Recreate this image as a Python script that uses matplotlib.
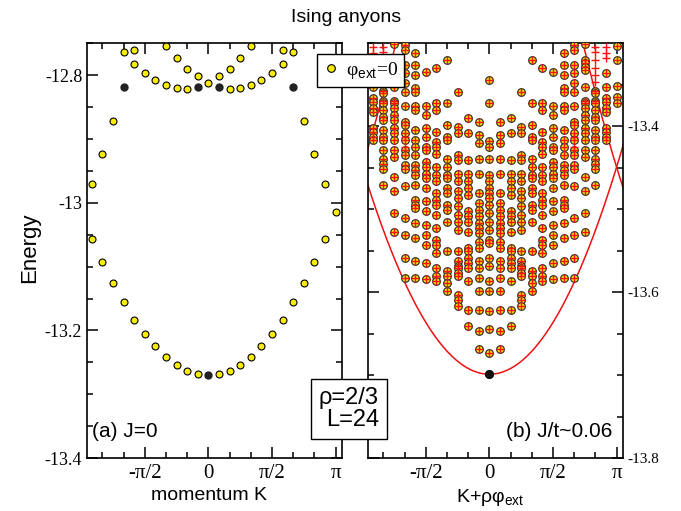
import numpy as np
import matplotlib.pyplot as plt
from matplotlib.lines import Line2D
from matplotlib.ticker import MultipleLocator, FixedLocator, FuncFormatter

plt.rcParams['font.family'] = ['Liberation Sans', 'DejaVu Sans']
plt.rcParams['mathtext.fontset'] = 'custom'
plt.rcParams['mathtext.rm'] = 'Liberation Sans'
plt.rcParams['mathtext.sf'] = 'Liberation Sans'
plt.rcParams['mathtext.it'] = 'Liberation Sans:italic'

L_SITES = 24

# panel (a), J=0 : energies for each momentum index k  (K = 2 pi k / L)
k_a = list(range(-11, 13))
E_a = [
    [-12.971, -13.056],
    [-12.924, -13.093],
    [-12.872, -13.126],
    [-12.764, -13.156],
    [-12.760, -12.782, -13.183],
    [-12.797, -13.206],
    [-12.808, -13.225],
    [-12.754, -12.815, -13.242],
    [-12.773, -12.820, -13.254],
    [-12.790, -12.821, -13.263],
    [-12.802, -13.268],
    [-12.812],
    [-12.802, -13.268],
    [-12.790, -12.821, -13.263],
    [-12.773, -12.820, -13.254],
    [-12.754, -12.815, -13.242],
    [-12.808, -13.225],
    [-12.797, -13.206],
    [-12.760, -12.782, -13.183],
    [-12.764, -13.156],
    [-12.872, -13.126],
    [-12.924, -13.093],
    [-12.971, -13.056],
    [-13.015],
]
k_a_gs = [-8, -1, 1, 8, 0]
E_a_gs = [-12.818, -12.818, -12.818, -12.818, -13.270]

# panel (b), J/t~0.06 : spectrum is symmetric in K, one list per |k|
k_b = list(range(0, 13))
E_b = [
    [-13.344, -13.372, -13.418, -13.425, -13.439, -13.459, -13.466, -13.474, -13.481, -13.487, -13.495,
     -13.505, -13.515, -13.525, -13.537, -13.541, -13.559, -13.569, -13.586, -13.599, -13.623, -13.644,
     -13.673, -13.699],
    [-13.395, -13.411, -13.420, -13.439, -13.457, -13.481, -13.493, -13.501, -13.508, -13.517, -13.523,
     -13.529, -13.539, -13.547, -13.562, -13.571, -13.583, -13.599, -13.622, -13.647, -13.669],
    [-13.390, -13.408, -13.441, -13.457, -13.466, -13.475, -13.483, -13.502, -13.508, -13.515, -13.528,
     -13.547, -13.551, -13.559, -13.565, -13.571, -13.587, -13.622, -13.641],
    [-13.359, -13.401, -13.408, -13.435, -13.441, -13.457, -13.466, -13.478, -13.487, -13.496, -13.507,
     -13.515, -13.525, -13.550, -13.563, -13.568, -13.571, -13.577, -13.581, -13.604, -13.610, -13.617],
    [-13.320, -13.372, -13.399, -13.413, -13.417, -13.439, -13.449, -13.459, -13.463, -13.475, -13.481,
     -13.495, -13.501, -13.515, -13.550, -13.575, -13.580, -13.589, -13.599],
    [-13.330, -13.372, -13.381, -13.407, -13.419, -13.425, -13.433, -13.449, -13.459, -13.466, -13.481,
     -13.489, -13.495, -13.507, -13.523, -13.537, -13.543, -13.553, -13.571, -13.580, -13.587],
    [-13.335, -13.375, -13.387, -13.402, -13.413, -13.425, -13.429, -13.443, -13.449, -13.457, -13.463,
     -13.475, -13.490, -13.502, -13.519, -13.531, -13.543, -13.565, -13.584],
    [-13.312, -13.326, -13.338, -13.354, -13.359, -13.375, -13.381, -13.405, -13.417, -13.425, -13.435,
     -13.447, -13.453, -13.459, -13.471, -13.489, -13.495, -13.499, -13.517, -13.535, -13.562, -13.583],
    [-13.302, -13.308, -13.326, -13.336, -13.348, -13.359, -13.375, -13.395, -13.399, -13.408, -13.417,
     -13.429, -13.435, -13.447, -13.451, -13.472, -13.511, -13.531, -13.559, -13.583],
    [-13.301, -13.320, -13.324, -13.329, -13.332, -13.353, -13.369, -13.372, -13.378, -13.387, -13.393,
     -13.402, -13.408, -13.417, -13.429, -13.437, -13.461, -13.478, -13.505, -13.527],
    [-13.357, -13.360, -13.369, -13.372, -13.381, -13.389, -13.393, -13.405, -13.413, -13.417, -13.429,
     -13.439, -13.445, -13.451, -13.471],
    [-13.336, -13.353, -13.366, -13.371, -13.378, -13.383, -13.402, -13.407, -13.413, -13.417],
    [-13.303, -13.320, -13.351, -13.365, -13.372],
]
# red crosses that have no circle under them
k_b_extra = [8, 10, 11]
E_b_extra = [
    [-13.413, -13.425],
    [-13.305, -13.311, -13.320, -13.330, -13.338, -13.347],
    [-13.305, -13.312, -13.318],
]
k_b_gs = [0]
E_b_gs = [-13.699]

# effective mass fit (red line), repeated at K = 0, +-2pi
fit_E0 = -13.699
fit_c = 0.0253
fit_centres = [-2 * np.pi, 0.0, 2 * np.pi]

YEL = '#f8ec00'


def K(k):
    return 2 * np.pi * np.asarray(k, dtype=float) / L_SITES


def flatten(ks, cols, mirror=False):
    xs, ys = [], []
    for k, Es in zip(ks, cols):
        for kk in ([k] if (k == 0 or not mirror) else [k, -k]):
            xs += [kk] * len(Es)
            ys += list(Es)
    return K(xs), np.array(ys)


fig = plt.figure(figsize=(6.81, 5.11), dpi=100)
ax1 = fig.add_axes([87 / 681, 1 - 458 / 511, 255 / 681, 414.7 / 511])
ax2 = fig.add_axes([368 / 681, 1 - 458 / 511, 255 / 681, 414.7 / 511])

# (a)
xa, ya = flatten(k_a, E_a)
ax1.plot(xa, ya, 'o', ms=5, mfc=YEL, mec='k', mew=0.8, ls='none', zorder=3)
ax1.plot(K(k_a_gs), E_a_gs, 'o', ms=5, mfc='#222222', mec='#222222', ls='none', zorder=4)

# (b)
xb, yb = flatten(k_b, E_b, mirror=True)
ax2.plot(xb, yb, 'o', ms=5.5, mfc=YEL, mec='#333333', mew=0.9, ls='none', zorder=3)
ax2.plot(xb, yb, '+', ms=6, color='#ff1010', mew=1.0, ls='none', zorder=4)
xe, ye = flatten(k_b_extra, E_b_extra, mirror=True)
ax2.plot(xe, ye, '+', ms=6, color='#ff1010', mew=1.0, ls='none', zorder=4)
ax2.plot(K(k_b_gs), E_b_gs, 'o', ms=5.5, mfc='#111111', mec='#111111', ls='none', zorder=5)
kk = np.linspace(-3.2, 3.4, 400)
for c in fit_centres:
    ax2.plot(kk, fit_E0 + fit_c * (kk - c) ** 2, color='#ee1111', lw=1.1, zorder=2)

for ax in (ax1, ax2):
    ax.set_xlim(-3.0, 3.3)
    ax.xaxis.set_major_locator(FixedLocator([-np.pi / 2, 0, np.pi / 2, np.pi]))
    ax.xaxis.set_minor_locator(MultipleLocator(np.pi / 6))
    ax.set_xticklabels(['-π/2', '0', 'π/2', 'π'])
    ax.yaxis.set_major_locator(MultipleLocator(0.2))
    ax.yaxis.set_minor_locator(MultipleLocator(0.05))
    ax.yaxis.set_major_formatter(FuncFormatter(lambda v, p: f'{v:g}'))
    ax.tick_params(which='both', direction='in', top=True, right=True, left=True, bottom=True, width=1.1)
    ax.tick_params(which='major', length=8)
    ax.tick_params(which='minor', length=4)
    ax.tick_params(axis='x', labelsize=15, labelfontfamily='Liberation Serif', pad=4)
    for s in ax.spines.values():
        s.set_linewidth(1.2)

ax1.set_ylim(-13.4, -12.75)
ax1.tick_params(axis='y', labelsize=13, labelfontfamily='Liberation Serif')
ax2.set_ylim(-13.8, -13.3)
ax2.tick_params(axis='y', labelleft=False, labelright=True, labelsize=11, labelfontfamily='Liberation Serif')

ax1.text(0.02, 0.04, '(a) J=0', transform=ax1.transAxes, fontsize=15, ha='left', va='bottom')
ax2.text(0.96, 0.04, '(b) J/t~0.06', transform=ax2.transAxes, fontsize=15, ha='right', va='bottom')

fig.text(346 / 681, 1 - 17 / 511, 'Ising anyons', ha='center', va='center', fontsize=14)
fig.text(30 / 681, 1 - 248 / 511, 'Energy', ha='center', va='center', rotation=90, fontsize=16)
fig.text(209 / 681, 1 - 495 / 511, 'momentum K', ha='center', va='center', fontsize=14)
fig.text(490 / 681, 1 - 502 / 511, 'K+ρφ$_{\\mathsf{ext}}$', ha='center', va='baseline', fontsize=14)

fig.text(349 / 681, 1 - 409 / 511, 'ρ=2/3\nL=24', ha='center', va='center', multialignment='right',
         fontsize=17, linespacing=1.0,
         bbox=dict(boxstyle='square,pad=0.35', fc='white', ec='k', lw=1.0), zorder=10)

handle = Line2D([], [], ls='none', marker='o', ms=5.5, mfc=YEL, mec='k', mew=0.8)
leg = fig.legend([handle], ['φ$_{\\mathsf{ext}}$=0'], loc='upper left', bbox_to_anchor=(317 / 681, 1 - 54 / 511),
                 frameon=True, fancybox=False, edgecolor='k', framealpha=1, borderaxespad=0,
                 prop={'family': 'Liberation Serif', 'size': 14}, handlelength=0.8, handletextpad=0.4,
                 borderpad=0.3)
leg.get_frame().set_linewidth(1.0)

fig.savefig('out.png', dpi=100)
